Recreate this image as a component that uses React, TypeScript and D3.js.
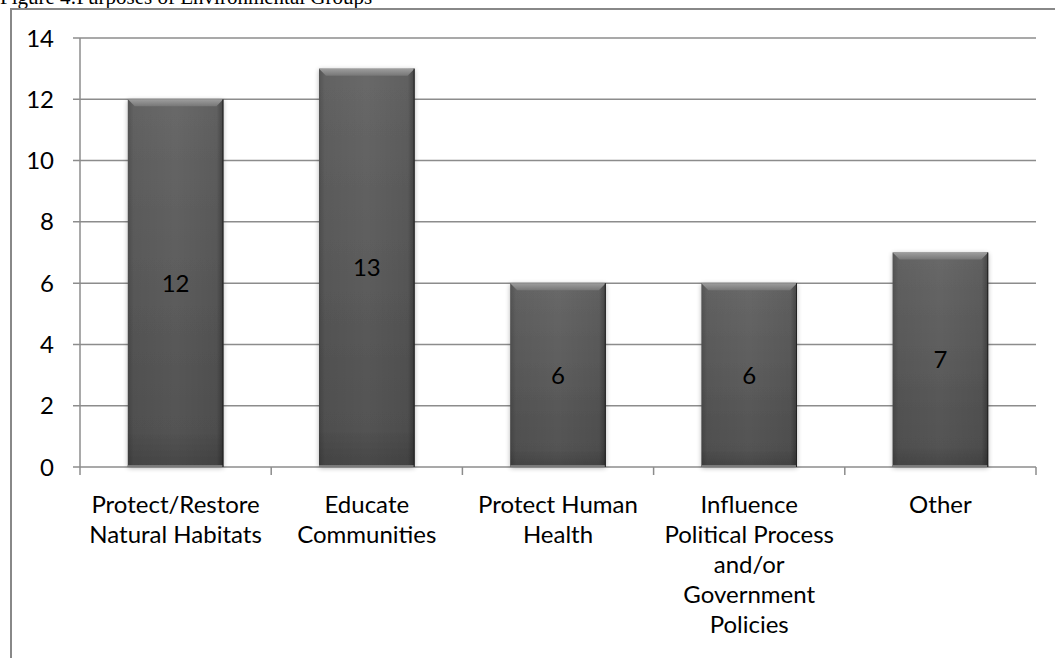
import React from "react";
import * as d3 from "d3";

const categories: string[][] = [
  ["Protect/Restore", "Natural Habitats"],
  ["Educate", "Communities"],
  ["Protect Human", "Health"],
  ["Influence", "Political Process", "and/or", "Government", "Policies"],
  ["Other"],
];
const values: number[] = [12, 13, 6, 6, 7];
const yTicks: number[] = [0, 2, 4, 6, 8, 10, 12, 14];
const title = "Figure 4:Purposes of Environmental Groups";

const W = 1055, H = 658;
const left = 80, right = 1036, top = 38, bottom = 467;
const font = "Lato, 'Open Sans', sans-serif";
const fs = 24;

export default function App() {
  const x = d3.scaleBand<number>().domain(values.map((_, i) => i)).range([left, right]).paddingInner(0.5).paddingOuter(0.25);
  const y = d3.scaleLinear().domain([0, 14]).range([bottom, top]);
  const bounds = d3.range(values.length + 1).map((i) => left + (i * (right - left)) / values.length);
  return (
    <svg width={W} height={H} style={{ position: "absolute", left: 0, top: 0, background: "#fff" }}>
      <defs>
        <linearGradient id="gh" x1="0" x2="1" y1="0" y2="0">
          <stop offset="0" stopColor="#000" stopOpacity="0.2" />
          <stop offset="0.06" stopColor="#000" stopOpacity="0.06" />
          <stop offset="0.5" stopColor="#000" stopOpacity="0" />
          <stop offset="0.93" stopColor="#000" stopOpacity="0.08" />
          <stop offset="1" stopColor="#000" stopOpacity="0.35" />
        </linearGradient>
        <linearGradient id="gv" x1="0" x2="0" y1="0" y2="1">
          <stop offset="0" stopColor="#686868" />
          <stop offset="0.9" stopColor="#535353" />
          <stop offset="1" stopColor="#474747" />
        </linearGradient>
        <linearGradient id="gt" x1="0" x2="0" y1="0" y2="1">
          <stop offset="0" stopColor="#9e9e9e" />
          <stop offset="1" stopColor="#777" />
        </linearGradient>
        <filter id="sh" x="-20%" y="-5%" width="140%" height="110%">
          <feGaussianBlur in="SourceAlpha" stdDeviation="2.5" />
          <feOffset dx="0" dy="1" />
          <feComponentTransfer><feFuncA type="linear" slope="0.3" /></feComponentTransfer>
          <feMerge><feMergeNode /><feMergeNode in="SourceGraphic" /></feMerge>
        </filter>
      </defs>
      <text x={0} y={4} fontFamily="'Liberation Serif', 'Times New Roman', serif" fontSize={21} fill="#000">{title}</text>
      <rect x={11} y={9} width={1100} height={700} fill="none" stroke="#888" strokeWidth={2} />
      {yTicks.map((t) => (
        <g key={t}>
          <line x1={73} x2={right} y1={y(t)} y2={y(t)} stroke="#8c8c8c" strokeWidth={1.5} />
          <text x={54} y={y(t)} dy="0.36em" textAnchor="end" fontFamily={font} fontSize={fs} fill="#000">{t}</text>
        </g>
      ))}
      <line x1={left} x2={left} y1={top} y2={bottom} stroke="#8c8c8c" strokeWidth={1.5} />
      {bounds.map((b, i) => (
        <line key={i} x1={b} x2={b} y1={bottom} y2={bottom + 8} stroke="#8c8c8c" strokeWidth={1.5} />
      ))}
      {values.map((v, i) => {
        const bx = x(i)!, bw = x.bandwidth(), by = y(v), bh = bottom - y(v);
        const bev = 7;
        return (
          <g key={i}>
            <g filter="url(#sh)">
              <rect x={bx} y={by} width={bw} height={bh} fill="url(#gv)" />
            </g>
            <rect x={bx} y={by} width={bw} height={bh} fill="url(#gh)" />
            <polygon points={`${bx},${by} ${bx + bw},${by} ${bx + bw - bev},${by + bev} ${bx + bev},${by + bev}`} fill="url(#gt)" />
            <line x1={bx} x2={bx + bw} y1={bottom - 1} y2={bottom - 1} stroke="#7a7a7a" strokeWidth={2} />
            <line x1={bx + bw - 0.5} x2={bx + bw - 0.5} y1={by} y2={bottom} stroke="#222" strokeWidth={1} />
            <text x={bx + bw / 2} y={(by + bottom) / 2} dy="0.36em" textAnchor="middle" fontFamily={font} fontSize={fs} fill="#000">{v}</text>
          </g>
        );
      })}
      {categories.map((lines, i) => (
        <text key={i} textAnchor="middle" fontFamily={font} fontSize={fs} fill="#000">
          {lines.map((l, j) => (
            <tspan key={j} x={x(i)! + x.bandwidth() / 2} y={504 + j * 30} dy="0.36em">{l}</tspan>
          ))}
        </text>
      ))}
    </svg>
  );
}
